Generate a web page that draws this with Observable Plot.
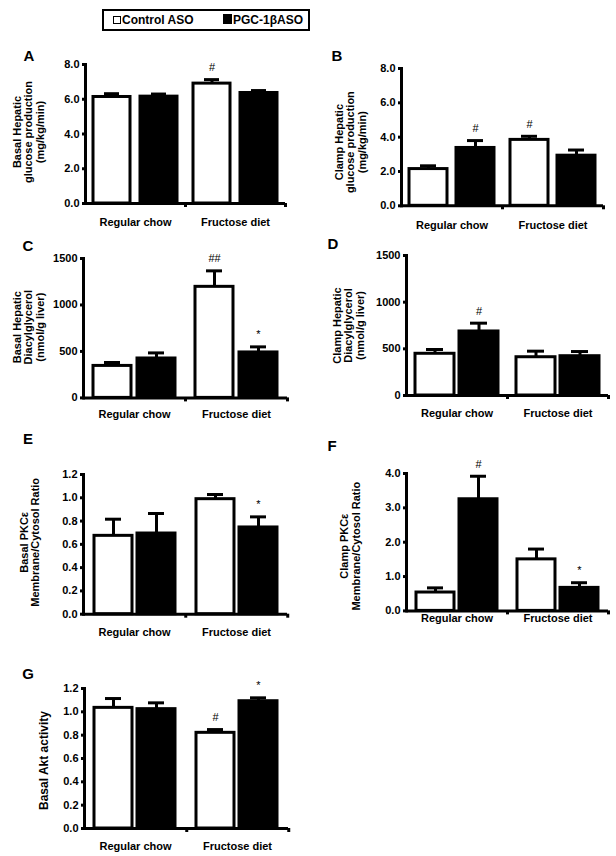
<!DOCTYPE html>
<html><head><meta charset="utf-8">
<script src="https://cdn.jsdelivr.net/npm/d3@7"></script>
<script src="https://cdn.jsdelivr.net/npm/@observablehq/plot@0.6"></script>
<style>
body{margin:0;background:#fff;font-family:"Liberation Sans",Arial,sans-serif;}
#root{position:relative;width:616px;height:856px;overflow:hidden;background:#fff;}
.panel{position:absolute;}
.letter{position:absolute;font-weight:bold;font-size:15px;line-height:1;transform:translate(-50%,-50%);}
#legend{position:absolute;left:102px;top:9px;width:204px;height:18px;border:2px solid #000;font-weight:bold;font-size:12px;}
#legend .item{position:absolute;top:2px;line-height:14px;white-space:nowrap;}
#legend .sw{display:inline-block;width:6px;height:6px;border:1.5px solid #000;margin-right:1px;vertical-align:0px;}
</style></head><body><div id="root"></div>
<script>
const groups = ["Regular chow", "Fructose diet"];
const treatments = ["Control ASO", "PGC-1βASO"];

// Panel A: Basal hepatic glucose production (mg/kg/min)
const meansA = [6.13, 6.15, 6.90, 6.36];
const semsA  = [0.19, 0.15, 0.23, 0.14];
const sigA   = ["", "", "#", ""];
// Panel B: Clamp hepatic glucose production
const meansB = [2.14, 3.37, 3.84, 2.92];
const semsB  = [0.19, 0.43, 0.21, 0.33];
const sigB   = ["", "#", "#", ""];
// Panel C: Basal hepatic diacylglycerol (nmol/g liver)
const meansC = [344, 424, 1195, 489];
const semsC  = [37, 60, 172, 60];
const sigC   = ["", "", "##", "*"];
// Panel D: Clamp hepatic diacylglycerol
const meansD = [447, 686, 410, 421];
const semsD  = [46, 89, 65, 50];
const sigD   = ["", "#", "", ""];
// Panel E: Basal PKCε membrane/cytosol ratio
const meansE = [0.673, 0.693, 0.988, 0.745];
const semsE  = [0.143, 0.172, 0.040, 0.091];
const sigE   = ["", "", "", "*"];
// Panel F: Clamp PKCε membrane/cytosol ratio
const meansF = [0.535, 3.25, 1.50, 0.67];
const semsF  = [0.135, 0.67, 0.30, 0.15];
const sigF   = ["", "#", "", "*"];
// Panel G: Basal Akt activity
const meansG = [1.034, 1.023, 0.82, 1.091];
const semsG  = [0.080, 0.054, 0.028, 0.029];
const sigG   = ["", "", "#", "*"];

const ticksGlucose = [0, 2, 4, 6, 8];
const ticksDAG = [0, 500, 1000, 1500];
const ticksRatio = [0, 0.2, 0.4, 0.6, 0.8, 1.0, 1.2];
const ticksClampPKC = [0, 1, 2, 3, 4];

const titleA = "Basal Hepatic\nglucose production\n(mg/kg/min)";
const titleB = "Clamp Hepatic\nglucose production\n(mg/kg/min)";
const titleC = "Basal Hepatic\nDiacylglycerol\n(nmol/g liver)";
const titleD = "Clamp Hepatic\nDiacylglycerol\n(nmol/g liver)";
const titleE = "Basal PKCε\nMembrane/Cytosol Ratio";
const titleF = "Clamp PKCε\nMembrane/Cytosol Ratio";
const titleG = "Basal Akt activity";

const f1 = d3.format(".1f"), f0 = d3.format("d");

const panels = [
  {letter:"A", lx:29, ly:55, means:meansA, sems:semsA, sig:sigA, ymax:8, ticks:ticksGlucose, fmt:f1, title:titleA,
   svgL:0, w:300, axisL:85, axisR:285, top:64.3, bottom:203.3, pi:0.21, po:0.16, tdx:-57, tdy:-2, tfs:11, xlab:19},
  {letter:"B", lx:337, ly:55, means:meansB, sems:semsB, sig:sigB, ymax:8, ticks:ticksGlucose, fmt:f1, title:titleB,
   svgL:300, w:316, axisL:401, axisR:603, top:67.7, bottom:205, pi:0.19, po:0.16, tdx:-51, tdy:5, tfs:11, xlab:19},
  {letter:"C", lx:28, ly:245, means:meansC, sems:semsC, sig:sigC, ymax:1500, ticks:ticksDAG, fmt:f0, title:titleC,
   svgL:0, w:300, axisL:83, axisR:287, top:258.3, bottom:397.7, pi:0.135, po:0.21, tdx:-55, tdy:-1, tfs:11, xlab:16},
  {letter:"D", lx:333, ly:243, means:meansD, sems:semsD, sig:sigD, ymax:1500, ticks:ticksDAG, fmt:f0, title:titleD,
   svgL:300, w:316, axisL:406, axisR:608, top:255, bottom:395, pi:0.124, po:0.2, tdx:-58, tdy:0, tfs:11, xlab:18},
  {letter:"E", lx:28, ly:438, means:meansE, sems:semsE, sig:sigE, ymax:1.2, ticks:ticksRatio, fmt:f1, title:titleE,
   svgL:0, w:300, axisL:82, axisR:287, top:474.3, bottom:614, pi:0.126, po:0.23, tdx:-53.5, tdy:-2, tfs:11, xlab:18},
  {letter:"F", lx:332, ly:445, means:meansF, sems:semsF, sig:sigF, ymax:4, ticks:ticksClampPKC, fmt:f1, title:titleF,
   svgL:300, w:316, axisL:406, axisR:608, top:473.3, bottom:610.7, pi:0.105, po:0.22, tdx:-56, tdy:4, tfs:11, xlab:7},
  {letter:"G", lx:28, ly:673, means:meansG, sems:semsG, sig:sigG, ymax:1.2, ticks:ticksRatio, fmt:f1, title:titleG,
   svgL:0, w:300, axisL:83, axisR:288, top:688.3, bottom:828.3, pi:0.116, po:0.233, tdx:-41, tdy:2, tfs:12, xlab:18}
];

const root = document.getElementById("root");

// legend
const legend = document.createElement("div");
legend.id = "legend";
legend.innerHTML =
  `<span class="item" style="left:9px"><span class="sw" style="background:#fff"></span>${treatments[0]}</span>` +
  `<span class="item" style="left:119px"><span class="sw" style="background:#000;width:7px;height:8px;"></span>${treatments[1]}</span>`;
root.appendChild(legend);

for (const p of panels) {
  const rows = [];
  let k = 0;
  for (const g of groups) for (const t of treatments) {
    rows.push({group: g, treatment: t, mean: p.means[k], sem: p.sems[k], sig: p.sig[k]});
    k++;
  }
  const top = d => d.mean + d.sem;
  const fw = (p.axisR - p.axisL) / 2;
  const mt = 20, mb = 40;
  const height = (p.bottom - p.top) + mt + mb;
  const chart = Plot.plot({
    width: p.w, height,
    marginLeft: p.axisL - p.svgL, marginRight: p.svgL + p.w - p.axisR,
    marginTop: mt, marginBottom: mb,
    style: {background: "transparent", overflow: "visible", fontFamily: "'Liberation Sans', Arial, sans-serif", fontSize: "11px", fontWeight: "bold", color: "black"},
    fx: {domain: groups, padding: 0, label: null},
    x: {domain: treatments, paddingInner: p.pi, paddingOuter: p.po, axis: null},
    y: {domain: [0, p.ymax], label: null},
    color: {domain: treatments, range: ["white", "black"]},
    marks: [
      Plot.ruleX(rows, {fx: "group", x: "treatment", y1: "mean", y2: top, stroke: "black", strokeWidth: 3}),
      Plot.tickY(rows, {fx: "group", x: "treatment", y: top, stroke: "black", strokeWidth: 3, insetLeft: 11, insetRight: 11}),
      Plot.barY(rows, {fx: "group", x: "treatment", y: "mean", fill: "treatment", stroke: "black", strokeWidth: 3}),
      Plot.text(rows.filter(d => d.sig), {fx: "group", x: "treatment", y: top, text: "sig", dy: -12, fontSize: 11, fontWeight: "normal", fill: "black"}),
      Plot.ruleY([0], {stroke: "black", strokeWidth: 3}),
      Plot.frame({anchor: "left", facetAnchor: "left", stroke: "black", strokeWidth: 3}),
      Plot.axisY({ticks: p.ticks, tickFormat: p.fmt, tickSize: 3, tickPadding: 3, strokeWidth: 3, label: null, fontSize: 11, fontWeight: "bold"}),
      Plot.axisFx({anchor: "bottom", tickSize: 0, tickPadding: p.xlab - 4, label: null, fontSize: 11, fontWeight: "bold"}),
      Plot.axisFx({anchor: "bottom", tickSize: 4, strokeWidth: 3, dx: fw / 2, tickFormat: () => "", label: null}),
      Plot.text([p.title], {frameAnchor: "left", facetAnchor: "left", rotate: -90, textAnchor: "middle", dx: p.tdx, dy: p.tdy, fontSize: p.tfs, fontWeight: "bold", lineHeight: 1.05, fill: "black"})
    ]
  });
  const wrap = document.createElement("div");
  wrap.className = "panel";
  wrap.style.left = p.svgL + "px";
  wrap.style.top = (p.top - mt) + "px";
  wrap.appendChild(chart);
  root.appendChild(wrap);

  const L = document.createElement("div");
  L.className = "letter";
  L.style.left = p.lx + "px";
  L.style.top = p.ly + "px";
  L.textContent = p.letter;
  root.appendChild(L);
}
</script></body></html>
